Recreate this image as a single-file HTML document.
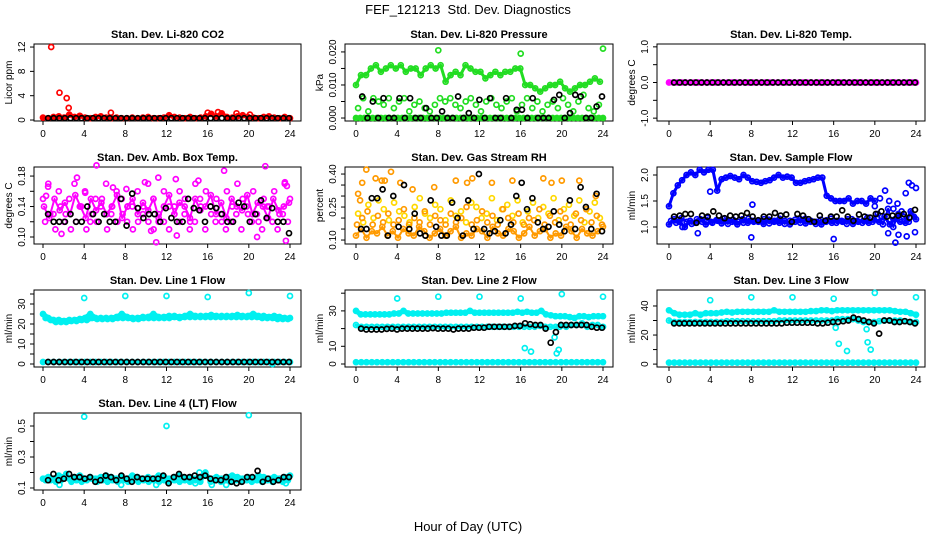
<!DOCTYPE html>
<html><head><meta charset="utf-8"><style>
body{margin:0;background:#fff}
svg{display:block;font-family:"Liberation Sans",sans-serif}
</style></head><body>
<svg id="chart" width="936" height="540" viewBox="0 0 936 540" xmlns="http://www.w3.org/2000/svg">
<text x="468" y="14" font-size="13" text-anchor="middle" xml:space="preserve">FEF_121213  Std. Dev. Diagnostics</text>
<text x="468" y="531" font-size="13" text-anchor="middle">Hour of Day (UTC)</text>
</svg>
<script>
// ---- data ----
const hourTicks = [0,4,8,12,16,20,24];
// P1 CO2
const co2Red = [0.4,0.3,0.5,0.6,0.4,0.9,0.5,0.7,0.4,0.3,0.5,0.6,0.4,0.3,0.4,0.3,0.3,0.4,0.3,0.4,0.5,0.3,0.3,0.4,0.8,0.5,0.4,0.3,0.5,0.3,0.4,0.6,1.0,0.6,1.1,0.5,0.4,0.6,0.8,0.5,0.4,0.3,0.5,0.6,0.4,0.3,0.5,0.3];
const co2SpikeT = [0.8,1.6,2.3,2.5,6.6,16,17,18.8,20.1];
const co2SpikeV = [12,4.5,3.6,2.0,1.2,1.2,1.3,1.1,0.9];
const co2Black = [0.3,0.3,0.3,0.3,0.3,0.3,0.3,0.3,0.3,0.3,0.3,0.3,0.3,0.3,0.3,0.3,0.3,0.3,0.3,0.3,0.3,0.3,0.3,0.3,0.3,0.3,0.3,0.3,0.3,0.3,0.3,0.3,0.3,0.3,0.3,0.3,0.3,0.3,0.3,0.3,0.3,0.3,0.3,0.3];
// P2 Pressure
const presHi = [0.010,0.013,0.013,0.015,0.016,0.014,0.015,0.016,0.015,0.016,0.014,0.015,0.015,0.013,0.015,0.016,0.015,0.016,0.011,0.013,0.014,0.013,0.016,0.015,0.014,0.014,0.012,0.013,0.014,0.013,0.014,0.014,0.015,0.015,0.010,0.010,0.009,0.008,0.009,0.010,0.010,0.011,0.009,0.008,0.009,0.010,0.010,0.011,0.012,0.011];
const presMid = [0.003,0.006,0.002,0.006,0.005,0.004,0.006,0.003,0.005,0.006,0.002,0.004,0.005,0.003,0.002,0.004,0.006,0.005,0.006,0.004,0.003,0.005,0.006,0.004,0.002,0.005,0.006,0.004,0.003,0.005,0.006,0.002,0.004,0.006,0.003,0.005,0.002,0.004,0.005,0.003,0.006,0.004,0.002,0.005,0.007,0.003,0.002,0.004];
const presZero = [0,0,0,0,0,0,0,0,0,0,0,0,0,0,0,0,0,0,0,0,0,0,0,0,0,0,0,0,0,0,0,0,0,0,0,0,0,0,0,0,0,0,0,0,0,0,0,0,0,0,0,0,0,0,0,0,0,0,0,0];
const presOutT = [8,16,24];
const presOutV = [0.0205,0.0195,0.021];
const presBlack = [0.0065,0,0.005,0,0.006,0,0,0.006,0,0.006,0,0,0.003,0,0,0.002,0,0,0.0065,0,0.0015,0,0.0055,0,0.006,0,0,0.006,0,0.0025,0.0025,0,0.006,0,0,0,0.0055,0.007,0,0.0015,0.007,0.0065,0,0,0.0035,0.0065];
// P3 Temp
const tempMag = [0,0,0,0,0,0,0,0,0,0,0,0,0,0,0,0,0,0,0,0,0,0,0,0,0,0,0,0,0,0,0,0,0,0,0,0,0,0,0,0,0,0,0,0,0,0,0,0,0,0,0,0,0,0,0,0,0,0,0,0];
const tempBlack = [0,0,0,0,0,0,0,0,0,0,0,0,0,0,0,0,0,0,0,0,0,0,0,0,0,0,0,0,0,0,0,0,0,0,0,0,0,0,0,0,0,0,0,0,0];
// P4 Amb box temp
const ambA = [0.15,0.17,0.13,0.16,0.12,0.15,0.17,0.14,0.16,0.12,0.15,0.14,0.17,0.13,0.16,0.15,0.12,0.14,0.16,0.13,0.17,0.15,0.12,0.16,0.14,0.13,0.16,0.15,0.12,0.17,0.14,0.16,0.13,0.15,0.12,0.16,0.14,0.17,0.15,0.13,0.16,0.12,0.15,0.14,0.16,0.13,0.17,0.15];
const ambB = [0.12,0.13,0.11,0.14,0.13,0.11,0.12,0.14,0.11,0.13,0.12,0.15,0.11,0.14,0.12,0.13,0.14,0.11,0.12,0.14,0.12,0.11,0.13,0.12,0.11,0.14,0.12,0.13,0.11,0.12,0.15,0.11,0.14,0.12,0.13,0.11,0.12,0.13,0.11,0.14,0.12,0.13,0.11,0.14,0.12,0.11,0.13,0.12];
const ambC = [0.14,0.125,0.15,0.135,0.145,0.13,0.155,0.14,0.125,0.15,0.135,0.145,0.13,0.14,0.155,0.125,0.14,0.15,0.13,0.145,0.135,0.15,0.125,0.14,0.155,0.13,0.145,0.14,0.125,0.15,0.135,0.14,0.155,0.13,0.145,0.125,0.15,0.14,0.135,0.155,0.13,0.145,0.14,0.125,0.15,0.135,0.14,0.145];
const ambOutT = [0.5,1.8,3.3,5.2,6.8,8.1,9.9,11.2,12.9,15.1,17.6,21.6,23.6,0.3,4.1,10.5,13,20.8,23.7,11,23.5];
const ambOutV = [0.166,0.104,0.178,0.194,0.165,0.163,0.172,0.178,0.176,0.174,0.187,0.193,0.095,0.154,0.158,0.108,0.102,0.1,0.167,0.093,0.172];
const ambBlack = [0.13,0.12,0.12,0.12,0.13,0.12,0.12,0.14,0.13,0.12,0.13,0.12,0.12,0.15,0.115,0.157,0.138,0.125,0.13,0.13,0.12,0.138,0.125,0.12,0.12,0.15,0.138,0.135,0.12,0.14,0.138,0.13,0.12,0.12,0.145,0.14,0.12,0.13,0.148,0.125,0.138,0.12,0.12,0.105];
// P5 RH
const rhLow = [0.12,0.15,0.11,0.14,0.13,0.16,0.12,0.14,0.11,0.15,0.13,0.12,0.16,0.14,0.11,0.13,0.15,0.12,0.14,0.16,0.11,0.13,0.12,0.15,0.14,0.11,0.16,0.13,0.12,0.15,0.14,0.11,0.13,0.16,0.12,0.14,0.15,0.11,0.13,0.12,0.16,0.14,0.11,0.15,0.13,0.12,0.14,0.16];
const rhMid = [0.22,0.18,0.26,0.2,0.28,0.24,0.19,0.27,0.23,0.21,0.18,0.25,0.29,0.22,0.2,0.26,0.24,0.19,0.28,0.21,0.23,0.18,0.27,0.25,0.2,0.22,0.29,0.19,0.24,0.26,0.21,0.28,0.18,0.23,0.27,0.2,0.25,0.22,0.29,0.19,0.24,0.26,0.21,0.28,0.18,0.23,0.27,0.2];
const rhMid2 = [0.17,0.2,0.23,0.17,0.21,0.18,0.22,0.17,0.19,0.24,0.17,0.2,0.18,0.23,0.17,0.21,0.19,0.17,0.22,0.18,0.2,0.25,0.17,0.19,0.23,0.18,0.21,0.17,0.24,0.2,0.18,0.22,0.17,0.2,0.19,0.24,0.17,0.21,0.18,0.23,0.2,0.17,0.22,0.19,0.24,0.18,0.21,0.17];
const rhOutT = [0.2,0.6,1.0,1.9,2.5,3.4,4.3,7.6,9.7,11.3,13.2,15.2,18.2,19,20,21.7,23.3,0.4,2.8,5.5,10.8];
const rhOutV = [0.31,0.36,0.42,0.38,0.37,0.41,0.36,0.34,0.37,0.38,0.36,0.37,0.38,0.36,0.37,0.37,0.3,0.28,0.37,0.33,0.36];
const rhBlack = [0.15,0.15,0.29,0.29,0.33,0.12,0.3,0.16,0.35,0.15,0.22,0.13,0.12,0.28,0.16,0.12,0.12,0.27,0.2,0.12,0.28,0.15,0.4,0.15,0.13,0.14,0.19,0.13,0.17,0.3,0.36,0.24,0.29,0.18,0.15,0.16,0.23,0.17,0.14,0.28,0.15,0.34,0.25,0.15,0.31,0.14];
// P6 Sample flow
const sfHi = [1.4,1.65,1.8,1.9,2.0,2.05,2.0,2.1,2.05,2.1,2.1,1.7,1.92,1.95,1.98,1.95,1.92,2.0,1.95,1.88,1.87,1.85,1.88,1.9,1.95,2.0,1.95,1.97,1.95,1.85,1.85,1.88,1.9,1.92,1.95,1.95,1.6,1.55,1.5,1.5,1.5,1.55,1.45,1.5,1.5,1.45,1.55,1.5];
const sfHi2T = [20,20.5,21,21.4,21.8,22.2,22.6,23,23.3,23.6,24];
const sfHi2V = [1.4,1.55,1.7,1.5,1.35,1.45,1.3,1.65,1.85,1.8,1.75];
const sfLow = [1.05,1.15,1.1,1.0,1.12,1.08,1.15,1.05,1.1,1.13,1.07,1.12,1.1,1.05,1.15,1.08,1.12,1.1,1.06,1.14,1.1,1.08,1.12,1.05,1.1,1.15,1.07,1.12,1.1,1.05,1.13,1.08,1.12,1.1,1.15,1.06,1.1,1.12,1.08,1.14,1.1,1.2,1.05,1.15,1.1,1.08,1.3,1.15];
const sfLow2 = [1.12,1.08,1.17,1.1,1.06,1.15,1.1,1.18,1.08,1.12,1.16,1.06,1.14,1.1,1.08,1.16,1.1,1.12,1.15,1.07,1.12,1.16,1.06,1.12,1.14,1.08,1.16,1.1,1.06,1.14,1.1,1.16,1.08,1.12,1.06,1.15,1.12,1.08,1.18,1.1,1.25,1.05,1.35,1.0,1.25,1.2,1.1,1.2];
const sfOutT = [2.8,8,16,21.3,22,23.9,22.3,23.1,1.3,4.0,8.1];
const sfOutV = [0.88,0.8,0.77,0.88,0.7,0.9,0.85,0.82,1.0,1.68,1.43];
const sfBlack = [1.2,1.22,1.25,1.25,1.08,1.22,1.2,1.3,1.22,1.17,1.22,1.2,1.22,1.27,1.2,1.13,1.2,1.2,1.27,1.22,1.24,1.1,1.25,1.22,1.15,1.1,1.22,1.12,1.2,1.2,1.32,1.2,1.12,1.24,1.2,1.18,1.25,1.3,1.2,1.22,1.22,1.25,1.18,1.33];
// P7 Line 1
const l1Band = [25,23,22,22,21.5,22,22,22.5,23,25,23,23,23,23,23.5,25,23.5,23,23,23.5,23.5,25,23.5,23.5,24,24,23.5,24,25,24,24,24,24.5,24,24,24,24,24.5,24,24,25,24,24,23.5,24,23.5,23,23];
const l1Band2 = [23,22,21,21,21,21.5,21.5,22,22,23,22.5,22.5,22.5,22.5,23,23,23,22.5,22.5,23,23,23,23,23,23,23.5,23,23.5,23.5,23.5,23.5,23.5,23.5,23.5,23.5,23.5,23.5,23.5,23.5,23.5,23.5,23.5,23,23,23,22.5,22.5,22.5];
const l1Base = [1,1,1,1,1,1,1,1,1,1,1,1,1,1,1,1,1,1,1,1,1,1,1,1,1,1,1,1,1,1,1,1,1,1,1,1,1,1,1,1,1,1,1,1,1,1,1,1];
const l1OutT = [4,8,12,16,20,24,22.3];
const l1OutV = [33,34,34,33.5,35.5,34,0];
const l1Black = [1,1,1,1,1,1,1,1,1,1,1,1,1,1,1,1,1,1,1,1,1,1,1,1,1,1,1,1,1,1,1,1,1,1,1,1,1,1,1,1,1,1,1,1];
// P8 Line 2
const l2Band = [30,28,28,28,28,28,28,28,28.5,28.5,30,28.5,28.5,28.5,28.5,28.5,28.5,28.5,28.5,29,29,29,29,29,30,29,29,29,29,29,29,29,29,29,29.5,29,29.5,29,29,30,28,27.5,27,27,27,26.5,26,27,27,26.5,27,27,27];
const l2Mid = [22,21,21,21,21,21,21,21,21,21,21,21,21,21,21,21,21,21,21,21,21,21,21,21,21,21,21,21,21,21,21,21,21,21,21,21.5,21,21,21,22,21,22,22,23,21,22,22,21];
const l2Base = [1,1,1,1,1,1,1,1,1,1,1,1,1,1,1,1,1,1,1,1,1,1,1,1,1,1,1,1,1,1,1,1,1,1,1,1,1,1,1,1,1,1,1,1,1,1,1,1];
const l2OutT = [4,8,12,16,20,24,16.4,17,19.5,19.7,19.3,19.8];
const l2OutV = [37,38,38,37,39.5,38,9,7,6,8,15,21];
const l2Black = [20,19.5,19.5,19.5,19.5,19.8,20,19.5,20,20,20,20,20,20,20.3,20,20,20,19.5,20,20,20,20.5,20.5,20.5,21,21,21,21,21,21.5,21.5,23,22.5,22,22,20,12,18,22,22,22,22,22,22,21,20.5,20.5];
// P9 Line 3
const l3Band = [37,35,34,34,34,35,34,35,35,35,35.5,36,35.5,36,36,36,36,36,36,36,37,36,36,36,36,36,36,36.5,36.5,37,37,36.5,37,37,37,37,37,37,37,37,37,37,37,36.5,36,36,35,34];
const l3Band2 = [30,29,29,29,29,29,29,29,29,29,29,29.5,29.5,29.5,29.5,29.5,29.5,29.5,29.5,29.5,29.5,30,30,30,30,30,30,30,30,30,30,30,31,31,31,31,30,29,29,29,29.5,30,30,30,30,29.5,29,29];
const l3Base = [1,1,1,1,1,1,1,1,1,1,1,1,1,1,1,1,1,1,1,1,1,1,1,1,1,1,1,1,1,1,1,1,1,1,1,1,1,1,1,1,1,1,1,1,1,1,1,1];
const l3OutT = [4,8,12,16,20,24,16.5,17.3,19.3,19.6,16.2,19.2];
const l3OutV = [44,46,46,45,49,46,14,9,15,10,25,24];
const l3Black = [28,28,28,28,28,28,28,28,28,28,28,28,28,28,28,28,28,28,28,28,28,28,28.5,28.5,28.5,28.5,28.5,28.5,28,28,28.5,29,29,29.5,30,32,31,30,29,28,21,30,30,29,29,29.5,29,28];
// P10 Line 4
const l4Band = [0.16,0.17,0.16,0.18,0.17,0.16,0.17,0.18,0.16,0.17,0.16,0.17,0.18,0.17,0.16,0.17,0.16,0.18,0.17,0.16,0.17,0.16,0.18,0.17,0.16,0.17,0.18,0.16,0.17,0.16,0.17,0.18,0.16,0.17,0.16,0.17,0.18,0.17,0.16,0.17,0.16,0.18,0.17,0.16,0.17,0.16,0.17,0.18];
const l4Band2 = [0.15,0.15,0.14,0.15,0.19,0.14,0.15,0.14,0.15,0.16,0.14,0.15,0.14,0.15,0.14,0.15,0.14,0.15,0.14,0.15,0.14,0.15,0.14,0.15,0.14,0.15,0.14,0.15,0.14,0.15,0.14,0.2,0.14,0.15,0.14,0.15,0.14,0.15,0.14,0.15,0.14,0.15,0.14,0.15,0.14,0.15,0.14,0.15];
const l4OutT = [4,12,20,1.6,7.6,11,14.8,16.4,17.8,23.6,15.2];
const l4OutV = [0.56,0.5,0.57,0.12,0.12,0.12,0.13,0.12,0.12,0.13,0.2];
const l4Black = [0.15,0.19,0.15,0.16,0.19,0.17,0.17,0.16,0.17,0.14,0.15,0.18,0.17,0.15,0.18,0.16,0.14,0.17,0.16,0.16,0.16,0.16,0.18,0.13,0.17,0.19,0.17,0.17,0.18,0.17,0.18,0.16,0.15,0.15,0.17,0.14,0.13,0.14,0.17,0.17,0.21,0.14,0.16,0.14,0.15,0.17,0.17];

// ---- layout ----
const NS = "http://www.w3.org/2000/svg";
const svg = document.getElementById('chart');
const boxL = [34,345,657], boxR = [301,613,925];
const x0 = [43,356,669], xW = 247;
function mk(tag, attrs, parent){const e=document.createElementNS(NS,tag);for(const k in attrs)e.setAttribute(k,attrs[k]);(parent||svg).appendChild(e);return e;}

const panels = [
 {c:0,r:0,title:"Stan. Dev. Li-820 CO2",ylab:"Licor ppm",lo:-0.16,hi:12.5,ticks:[0,4,8,12],labels:["0","4","8","12"]},
 {c:1,r:0,title:"Stan. Dev. Li-820 Pressure",ylab:"kPa",lo:-0.0009,hi:0.0224,ticks:[0,0.005,0.01,0.015,0.02],labels:["0.000","","0.010","","0.020"]},
 {c:2,r:0,title:"Stan. Dev. Li-820 Temp.",ylab:"degrees C",lo:-1.08,hi:1.08,ticks:[-1,-0.5,0,0.5,1],labels:["-1.0","","0.0","","1.0"]},
 {c:0,r:1,title:"Stan. Dev. Amb. Box Temp.",ylab:"degrees C",lo:0.0908,hi:0.1919,ticks:[0.10,0.12,0.14,0.16,0.18],labels:["0.10","","0.14","","0.18"]},
 {c:1,r:1,title:"Stan. Dev. Gas Stream RH",ylab:"percent",lo:0.082,hi:0.432,ticks:[0.10,0.15,0.20,0.25,0.30,0.35,0.40],labels:["0.10","","","0.25","","","0.40"]},
 {c:2,r:1,title:"Stan. Dev. Sample Flow",ylab:"ml/min",lo:0.673,hi:2.154,ticks:[1.0,1.5,2.0],labels:["1.0","1.5","2.0"]},
 {c:0,r:2,title:"Stan. Dev. Line 1 Flow",ylab:"ml/min",lo:-1.5,hi:37,ticks:[0,5,10,15,20,25,30,35],labels:["0","","10","","20","","30",""]},
 {c:1,r:2,title:"Stan. Dev. Line 2 Flow",ylab:"ml/min",lo:-1.7,hi:41.8,ticks:[0,10,20,30,40],labels:["0","10","","30",""]},
 {c:2,r:2,title:"Stan. Dev. Line 3 Flow",ylab:"ml/min",lo:-2,hi:51,ticks:[0,10,20,30,40],labels:["0","","20","","40"]},
 {c:0,r:3,title:"Stan. Dev. Line 4 (LT) Flow",ylab:"ml/min",lo:0.087,hi:0.584,ticks:[0.1,0.2,0.3,0.4,0.5],labels:["0.1","","0.3","","0.5"]}
];
const slug=s=>s.toLowerCase().replace(/[^a-z0-9]+/g,'-').replace(/^-|-$/g,'');

function geom(p){const top=44+123*p.r,bot=121+123*p.r;return{top,bot,
 xs:t=>x0[p.c]+t/24*xW, ys:v=>bot-(v-p.lo)/(p.hi-p.lo)*(bot-top)};}

function pts(p,g,times,vals,color,name,dense){
 const grp=mk('g',{});
 
 
 if(dense){
  const d=vals.map((v,i)=>g.xs(times[i]).toFixed(1)+','+g.ys(v).toFixed(1)).join(' ');
  const pl=mk('polyline',{points:d,fill:'none',stroke:color,'stroke-width':dense,'stroke-linejoin':'round','stroke-linecap':'round'},grp);
  
  
 }
 vals.forEach((v,i)=>{
  const c=mk('circle',{cx:g.xs(times[i]).toFixed(1),cy:g.ys(v).toFixed(1),r:2.5,fill:'none',stroke:color,'stroke-width':1.7},grp);
  
  
 });
}
function spread(n,a,b){const o=[];for(let i=0;i<n;i++)o.push(a+(b-a)*i/(n-1));return o;}
function ser(p,g,vals,a,b,color,name,dense){pts(p,g,spread(vals.length,a,b),vals,color,name,dense);}

const G = panels.map(p=>{
 const g=geom(p), L=boxL[p.c], R=boxR[p.c];
 const pg=mk('g',{});
 
 
 const tt=mk('text',{x:(L+R)/2,y:g.top-6,'font-size':11,'font-weight':'bold','text-anchor':'middle'},pg);
 tt.textContent=p.title;
 
 
 const bx=mk('rect',{x:L,y:g.top,width:R-L,height:g.bot-g.top,fill:'none',stroke:'#000','stroke-width':1},pg);
 
 
 hourTicks.forEach(h=>{
  const x=g.xs(h);
  mk('line',{x1:x,x2:x,y1:g.bot,y2:g.bot+4,stroke:'#000'},pg);
  const tl=mk('text',{x:x,y:g.bot+16,'font-size':10,'text-anchor':'middle'},pg);
  tl.textContent=h;
  
  
 });
 p.ticks.forEach((v,i)=>{
  const y=g.ys(v);
  mk('line',{x1:L-4,x2:L,y1:y,y2:y,stroke:'#000'},pg);
  if(p.labels[i]){
   const yl=mk('text',{x:0,y:0,'font-size':10,'text-anchor':'middle',transform:`translate(${L-9},${y}) rotate(-90)`},pg);
   yl.textContent=p.labels[i];
   
   
  }
 });
 const ya=mk('text',{x:0,y:0,'font-size':10,'text-anchor':'middle',transform:`translate(${L-22},${(g.top+g.bot)/2}) rotate(-90)`},pg);
 ya.textContent=p.ylab;
 
 
 return g;
});

const RED='#ff0000',GRN='#22dd22',MAG='#ff00ff',ORG='#ff9a00',YEL='#ffd800',BLU='#0000ff',CYN='#00f0f0',BLK='#000';
// P1
ser(panels[0],G[0],co2Red,0,24,RED,'co2-series',4);
pts(panels[0],G[0],co2SpikeT,co2SpikeV,RED,'co2-spikes');
ser(panels[0],G[0],co2Black,0.5,23.9,BLK,'co2-hourly');
// P2
ser(panels[1],G[1],presZero,0,24,GRN,'pressure-zero',5);
ser(panels[1],G[1],presMid,0.2,23.6,GRN,'pressure-mid');
ser(panels[1],G[1],presHi,0,23.7,GRN,'pressure-high',3);
pts(panels[1],G[1],presOutT,presOutV,GRN,'pressure-outliers');
ser(panels[1],G[1],presBlack,0.6,23.9,BLK,'pressure-hourly');
// P3
ser(panels[2],G[2],tempMag,0,24,MAG,'temp-series',5);
ser(panels[2],G[2],tempBlack,0.5,23.9,BLK,'temp-hourly');
// P4
ser(panels[3],G[3],ambA,0,24,MAG,'amb-temp-a');
ser(panels[3],G[3],ambB,0.2,23.8,MAG,'amb-temp-b');
ser(panels[3],G[3],ambC,0.1,23.9,MAG,'amb-temp-c',2);
pts(panels[3],G[3],ambOutT,ambOutV,MAG,'amb-temp-outliers');
ser(panels[3],G[3],ambBlack,0.5,23.9,BLK,'amb-temp-hourly');
// P5
ser(panels[4],G[4],rhLow,0,24,ORG,'rh-low',2);
ser(panels[4],G[4],rhMid,0.2,23.7,YEL,'rh-mid');
ser(panels[4],G[4],rhMid2,0.1,23.9,ORG,'rh-mid2');
pts(panels[4],G[4],rhOutT,rhOutV,ORG,'rh-outliers');
ser(panels[4],G[4],rhBlack,0.5,23.9,BLK,'rh-hourly');
// P6
ser(panels[5],G[5],sfLow,0,24,BLU,'sample-flow-low',3);
ser(panels[5],G[5],sfLow2,0.2,23.8,BLU,'sample-flow-low2',2);
ser(panels[5],G[5],sfHi,0,20,BLU,'sample-flow-high',3);
pts(panels[5],G[5],sfHi2T,sfHi2V,BLU,'sample-flow-high-late');
pts(panels[5],G[5],sfOutT,sfOutV,BLU,'sample-flow-outliers');
ser(panels[5],G[5],sfBlack,0.5,23.9,BLK,'sample-flow-hourly');
// P7
ser(panels[6],G[6],l1Band,0,24,CYN,'line1-band',5);
ser(panels[6],G[6],l1Band2,0.25,23.8,CYN,'line1-band2',5);
ser(panels[6],G[6],l1Base,0,24,CYN,'line1-base',4);
pts(panels[6],G[6],l1OutT,l1OutV,CYN,'line1-outliers');
ser(panels[6],G[6],l1Black,0.5,23.9,BLK,'line1-hourly');
// P8
ser(panels[7],G[7],l2Band,0,24,CYN,'line2-band',5);
ser(panels[7],G[7],l2Mid,0,24,CYN,'line2-mid',3);
ser(panels[7],G[7],l2Base,0,24,CYN,'line2-base',4);
pts(panels[7],G[7],l2OutT,l2OutV,CYN,'line2-outliers');
ser(panels[7],G[7],l2Black,0.5,23.9,BLK,'line2-hourly');
// P9
ser(panels[8],G[8],l3Band,0,24,CYN,'line3-band',5);
ser(panels[8],G[8],l3Band2,0,24,CYN,'line3-band2',3);
ser(panels[8],G[8],l3Base,0,24,CYN,'line3-base',4);
pts(panels[8],G[8],l3OutT,l3OutV,CYN,'line3-outliers');
ser(panels[8],G[8],l3Black,0.5,23.9,BLK,'line3-hourly');
// P10
ser(panels[9],G[9],l4Band,0,24,CYN,'line4-band',5);
ser(panels[9],G[9],l4Band2,0.25,23.8,CYN,'line4-band2',4);
pts(panels[9],G[9],l4OutT,l4OutV,CYN,'line4-outliers');
ser(panels[9],G[9],l4Black,0.5,23.9,BLK,'line4-hourly');
</script>
</body></html>
